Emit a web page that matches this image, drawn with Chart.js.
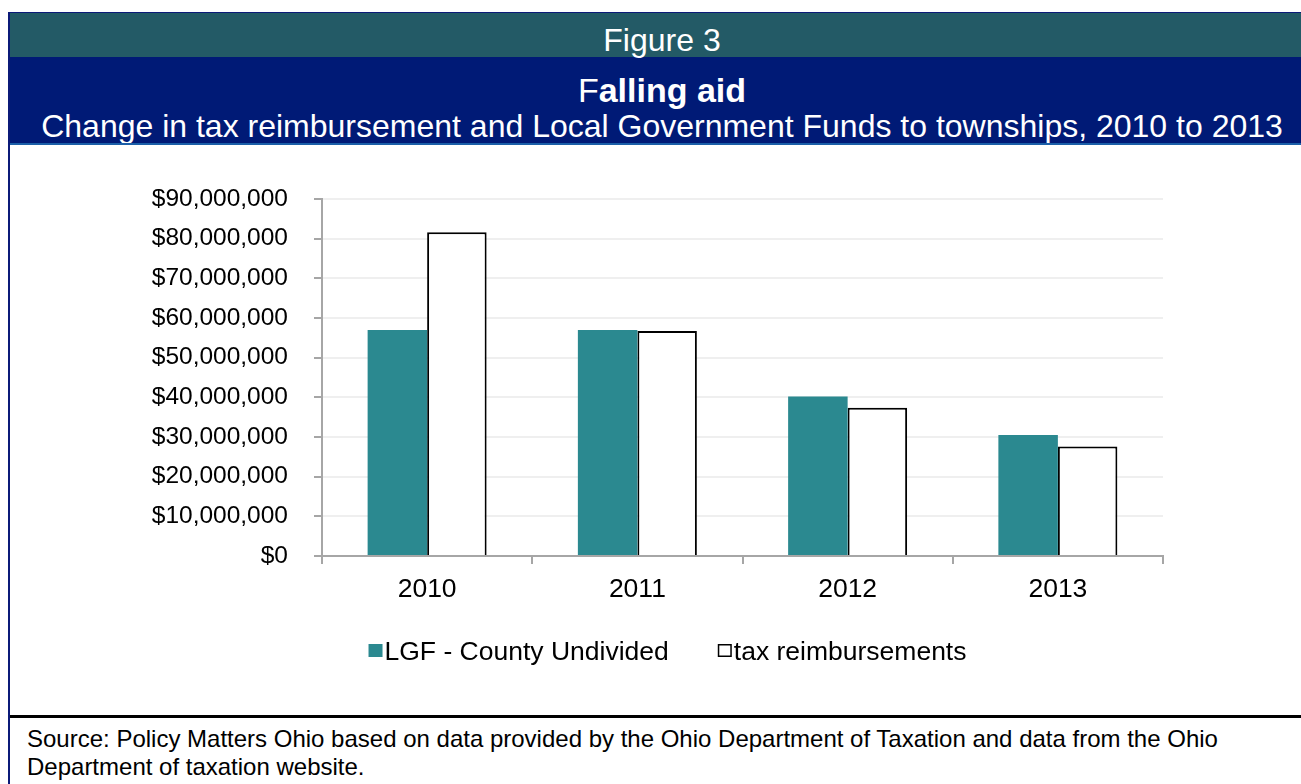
<!DOCTYPE html>
<html>
<head>
<meta charset="utf-8">
<script src="https://cdn.jsdelivr.net/npm/chart.js@4.4.1/dist/chart.umd.min.js"></script>
<style>
  html, body { margin: 0; padding: 0; background: #fff; }
  body { width: 1301px; height: 784px; overflow: hidden; position: relative; font-family: "Liberation Sans", Arial, sans-serif; }
  .frame { position: absolute; left: 8px; top: 12px; width: 1320px; height: 800px; border-left: 2px solid #0b1a78; border-top: 1px solid #0b1a78; }
  .band1 { position: absolute; left: 10px; top: 13px; width: 1304px; height: 44px; background: #235a66; }
  .band1-text { position: absolute; left: 10px; top: 18px; width: 1304px; height: 44px; color: #fff; text-align: center; font-size: 32px; line-height: 44px; z-index: 2; }
  .band2 { position: absolute; left: 10px; top: 57px; width: 1304px; height: 86px; background: #001a76; color: #fff; text-align: center; }
  .band2 .t { font-size: 34px; line-height: 36px; padding-top: 15px; }
  .band2 .t b { font-weight: bold; }
  .band2 .s { font-size: 32px; line-height: 36px; }
  .rule { position: absolute; left: 10px; top: 143px; width: 1300px; height: 2px; background: #1b5fa8; }
  .sep { position: absolute; left: 10px; top: 715px; width: 1300px; height: 3px; background: #000; }
  .source { position: absolute; left: 27px; top: 725px; font-size: 24px; line-height: 28px; color: #000; white-space: nowrap; }
  .wrap { position: absolute; left: 10px; top: 146px; width: 1291px; height: 568px; }
</style>
</head>
<body>
<div class="frame"></div>
<div class="band1"></div>
<div class="band2">
  <div class="t">F<b>alling aid</b></div>
  <div class="s">Change in tax reimbursement and Local Government Funds to townships, 2010 to 2013</div>
</div>
<div class="band1-text">Figure 3</div>
<div class="rule"></div>
<div class="wrap"><canvas id="myChart"></canvas></div>
<div class="sep"></div>
<div class="source">Source: Policy Matters Ohio based on data provided by the Ohio Department of Taxation and data from the Ohio<br>Department of taxation website.</div>

<script>
const years = ["2010", "2011", "2012", "2013"];
const lgfCounty = [57000000, 57000000, 40200000, 30500000];
const taxReimb = [81600000, 56700000, 37400000, 27600000];
const yTicks = [0, 10000000, 20000000, 30000000, 40000000, 50000000, 60000000, 70000000, 80000000, 90000000];

const FONT = "'Liberation Sans', Arial, sans-serif";

// legend drawn as one row under the axis, small gap between box and text
const rowLegend = {
  id: 'rowLegend',
  afterDraw(chart) {
    const ctx = chart.ctx;
    const sets = chart.data.datasets;
    const box = 14, gap = 2, itemGap = 49;
    ctx.save();
    ctx.font = "26.5px " + FONT;
    let total = 0;
    const widths = sets.map(d => ctx.measureText(d.label).width);
    widths.forEach((w, i) => { total += box + gap + w + (i ? itemGap : 0); });
    let x = chart.width / 2 + 12 - total / 2;
    const y = 506;
    sets.forEach((d, i) => {
      ctx.fillStyle = d.backgroundColor;
      ctx.fillRect(x, y - 8, box, box - 1);
      if (d.borderWidth) {
        ctx.strokeStyle = d.borderColor;
        ctx.lineWidth = 1.5;
        ctx.strokeRect(x + 0.75, y - 7.25, box - 1.5, box - 2.5);
      }
      ctx.fillStyle = '#000';
      ctx.textBaseline = 'middle';
      ctx.textAlign = 'left';
      ctx.fillText(d.label, x + box + gap, y + 1);
      x += box + gap + widths[i] + itemGap;
    });
    ctx.restore();
  }
};

const ctx = document.getElementById('myChart').getContext('2d');
const myChart = new Chart(ctx, {
  type: 'bar',
  data: {
    labels: years,
    datasets: [{
      label: "LGF - County Undivided",
      data: lgfCounty,
      backgroundColor: "#2b8990",
      borderWidth: 0,
      categoryPercentage: 0.566,
      barPercentage: 1.0,
    }, {
      label: "tax reimbursements",
      data: taxReimb,
      backgroundColor: "#ffffff",
      borderColor: "#000000",
      borderWidth: 2,
      borderSkipped: 'bottom',
      categoryPercentage: 0.566,
      barPercentage: 1.0,
    }]
  },
  options: {
    responsive: true,
    maintainAspectRatio: false,
    animation: false,
    layout: { padding: { left: 0, right: 138, top: 53, bottom: 98 } },
    plugins: {
      legend: { display: false },
      tooltip: { enabled: false },
    },
    scales: {
      x: {
        grid: { drawOnChartArea: false, tickColor: '#a6a6a6', tickLength: 8, lineWidth: 2 },
        border: { color: '#a6a6a6', width: 2 },
        ticks: { color: '#000', font: { family: FONT, size: 26.5 }, padding: 10 },
        afterFit(scale) { scale.height = 60; }
      },
      y: {
        min: 0,
        max: 90000000,
        afterBuildTicks(scale) { scale.ticks = yTicks.map(v => ({ value: v })); },
        grid: { color: '#efefef', lineWidth: 2, tickColor: '#a6a6a6', tickLength: 8 },
        border: { color: '#a6a6a6', width: 2 },
        ticks: {
          color: '#000',
          font: { family: FONT, size: 24.5 },
          padding: 26,
          callback: v => '$' + Number(v).toLocaleString('en-US')
        },
        afterFit(scale) { scale.width = 312; }
      }
    }
  },
  plugins: [rowLegend]
});
</script>
</body>
</html>
